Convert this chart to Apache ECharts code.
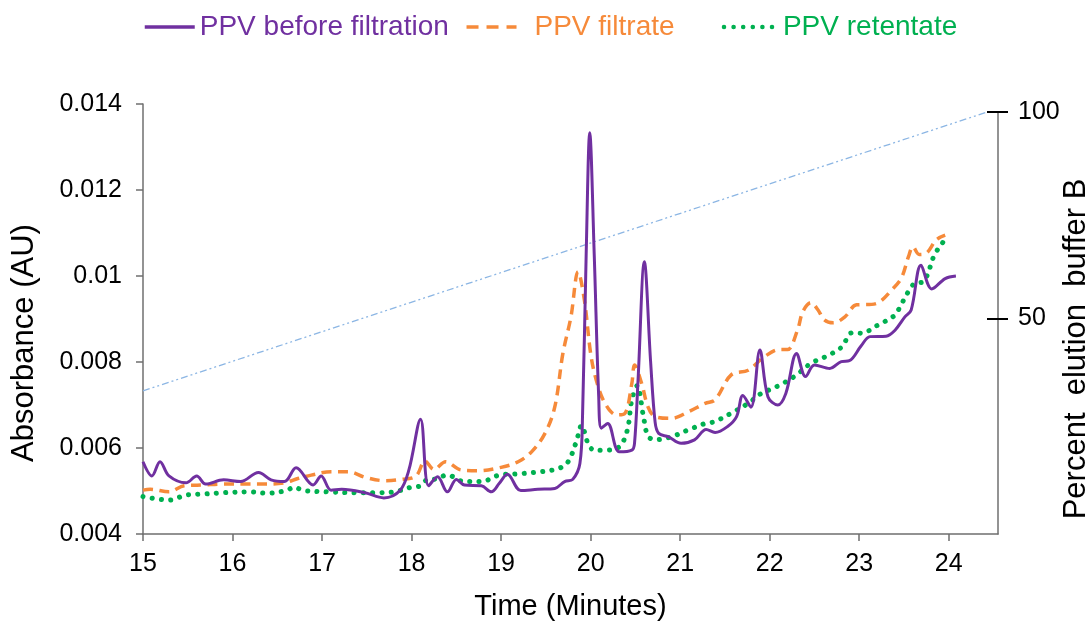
<!DOCTYPE html>
<html>
<head>
<meta charset="utf-8">
<title>PPV elution profile</title>
<script src="https://cdn.jsdelivr.net/npm/echarts@6/dist/echarts.min.js"></script>
<style>
  html, body { margin: 0; padding: 0; background: #fff; }
  #main { width: 1091px; height: 624px; }
</style>
</head>
<body>
<div id="main"></div>
<script>
// values (time in minutes, absorbance in AU)
var beforeTime = [15.0, 15.1, 15.19, 15.29, 15.48, 15.6, 15.7, 15.9, 16.09, 16.29, 16.43, 16.58, 16.71, 16.9, 16.99,
  17.1, 17.22, 17.48, 17.69, 17.87, 17.97, 18.1, 18.19, 18.29, 18.4, 18.5, 18.59, 18.78, 18.89, 18.98, 19.07,
  19.22, 19.41, 19.6, 19.71, 19.8, 19.88, 19.91, 19.95, 19.99, 20.04, 20.09, 20.12, 20.19, 20.32, 20.46, 20.49,
  20.53, 20.6, 20.67, 20.72, 20.76, 20.87, 21.01, 21.16, 21.29, 21.39, 21.53, 21.63, 21.7, 21.79, 21.89, 21.98,
  22.09, 22.18, 22.3, 22.4, 22.5, 22.67, 22.8, 22.89, 23.02, 23.12, 23.3, 23.4, 23.51, 23.58, 23.69, 23.81, 23.96, 24.08];
var beforeAbs = [0.00568, 0.00535, 0.00568, 0.00535, 0.00519, 0.00535, 0.00516, 0.00526, 0.00522, 0.00543, 0.00526, 0.00522, 0.00554, 0.00514, 0.00535,
  0.00502, 0.00504, 0.00496, 0.00484, 0.00501, 0.00549, 0.00667, 0.00512, 0.00533, 0.00498, 0.00527, 0.00514, 0.00512, 0.00498, 0.00518, 0.00539,
  0.00501, 0.00504, 0.00506, 0.00522, 0.00527, 0.00564, 0.0068, 0.0105, 0.01333, 0.0105, 0.0072, 0.00646, 0.00657, 0.00591, 0.00595, 0.00611,
  0.0076, 0.01033, 0.008, 0.0066, 0.00634, 0.00626, 0.00611, 0.00619, 0.00643, 0.00636, 0.0065, 0.00673, 0.00722, 0.00695, 0.00828, 0.00719,
  0.007, 0.00727, 0.0082, 0.00766, 0.00793, 0.00785, 0.00801, 0.00803, 0.00837, 0.00859, 0.0086, 0.00874, 0.00905, 0.00921, 0.01025, 0.0097, 0.00994, 0.01];

var filtrateTime = [15.0, 15.08, 15.29, 15.46, 15.68, 15.9, 16.17, 16.36, 16.58, 16.73, 16.88, 17.1, 17.29, 17.48, 17.7,
  17.89, 18.05, 18.15, 18.25, 18.38, 18.55, 18.74, 19.0, 19.19, 19.34, 19.49, 19.6, 19.69, 19.78, 19.86, 19.93,
  20.0, 20.06, 20.16, 20.29, 20.38, 20.46, 20.49, 20.57, 20.64, 20.72, 20.9, 21.09, 21.28, 21.39, 21.57, 21.76,
  21.94, 22.11, 22.2, 22.31, 22.37, 22.46, 22.54, 22.61, 22.71, 22.84, 22.97, 23.14, 23.23, 23.36, 23.47, 23.55,
  23.6, 23.67, 23.75, 23.86, 23.96];
var filtrateAbs = [0.00502, 0.00504, 0.00498, 0.00512, 0.00514, 0.00516, 0.00516, 0.00516, 0.00519, 0.00529, 0.00537, 0.00545, 0.00545, 0.00532, 0.00524,
  0.00527, 0.00535, 0.0057, 0.0055, 0.00568, 0.00549, 0.00547, 0.00555, 0.00568, 0.00591, 0.00634, 0.00696, 0.0082, 0.00905, 0.0101, 0.00944,
  0.0082, 0.0076, 0.00704, 0.00677, 0.0068, 0.0075, 0.00793, 0.0075, 0.00696, 0.00673, 0.00669, 0.00684, 0.00704, 0.00712, 0.0077, 0.00781,
  0.00812, 0.00829, 0.00829, 0.00874, 0.00917, 0.00938, 0.00921, 0.00898, 0.00891, 0.00905, 0.00933, 0.00934, 0.0094, 0.00967, 0.00995, 0.01045,
  0.01068, 0.0105, 0.01053, 0.01084, 0.01095];

var retentateTime = [15.0, 15.29, 15.49, 15.68, 15.9, 16.19, 16.39, 16.6, 16.69, 16.79, 17.07, 17.37, 17.59, 17.8, 18.0,
  18.1, 18.17, 18.27, 18.4, 18.59, 18.78, 18.98, 19.19, 19.37, 19.58, 19.69, 19.76, 19.84, 19.9, 19.97, 20.04,
  20.16, 20.32, 20.41, 20.46, 20.52, 20.59, 20.64, 20.72, 20.9, 21.09, 21.28, 21.38, 21.57, 21.76, 21.9, 22.09,
  22.28, 22.46, 22.61, 22.8, 22.92, 23.02, 23.21, 23.4, 23.45, 23.55, 23.62, 23.72, 23.77, 23.84, 23.94, 23.97];
var retentateAbs = [0.00487, 0.00479, 0.00491, 0.00493, 0.00496, 0.00498, 0.00495, 0.00501, 0.00509, 0.00501, 0.00498, 0.00496, 0.00496, 0.00498, 0.00509,
  0.00512, 0.00526, 0.00528, 0.00537, 0.00522, 0.00522, 0.00537, 0.0054, 0.00543, 0.00549, 0.00557, 0.00572, 0.00615, 0.00653, 0.00611, 0.00595,
  0.00595, 0.00603, 0.00642, 0.00712, 0.00745, 0.00673, 0.00628, 0.00619, 0.00626, 0.00642, 0.00657, 0.00661, 0.00681, 0.00704, 0.00726, 0.00744,
  0.00767, 0.00797, 0.00811, 0.00834, 0.00868, 0.00867, 0.00886, 0.00909, 0.00926, 0.00964, 0.00983, 0.00987, 0.01008, 0.01049, 0.0108, 0.01088];

// elution gradient (% buffer B)
var gradientTime = [15, 24.43];
var gradientPct = [32.4, 100];

var xTicks = [15, 16, 17, 18, 19, 20, 21, 22, 23, 24];
var rightTicks = [50, 100];

var font = 'Liberation Sans, Arial, sans-serif';
var axisGrey = '#6f6f6f';
var purple = '#7030A0', orange = '#F68A3A', green = '#00B050';

function pairs(t, v) {
  return t.map(function (x, i) { return [x, v[i]]; });
}

var myChart = echarts.init(document.getElementById('main'));

var option = {
  animation: false,
  textStyle: { fontFamily: font },
  legend: {
    left: 143,
    top: 13,
    itemWidth: 50,
    itemHeight: 14,
    itemGap: 16,
    padding: 0,
    itemStyle: { opacity: 0 },
    textStyle: { fontSize: 28, fontFamily: font },
    // extra room after the middle entry, as in the original legend
    formatter: function (name) {
      return name === 'PPV filtrate' ? name + '\u00a0\u00a0\u00a0\u00a0' : name;
    },
    data: [
      { name: 'PPV before filtration', textStyle: { color: purple },
        lineStyle: { width: 3.5, type: 'solid' } },
      { name: 'PPV filtrate', textStyle: { color: orange, padding: [0, 0, 0, 13] },
        lineStyle: { width: 3.5, type: [12, 8] } },
      { name: 'PPV retentate', textStyle: { color: green, padding: [0, 0, 0, 4] },
        lineStyle: { width: 4.5, type: [0.1, 9.5], cap: 'round' } }
    ]
  },
  grid: [
    { left: 143, right: 93, top: 104, bottom: 90, outerBoundsMode: 'none' },
    { left: 143, right: 93, top: 112, bottom: 90, outerBoundsMode: 'none' },
    { left: 143, right: 93, top: 112, bottom: 90, outerBoundsMode: 'none' }
  ],
  xAxis: [
    {
      type: 'value', gridIndex: 0, min: 15, max: 24.55,
      name: 'Time (Minutes)', nameLocation: 'middle', nameGap: 58,
      nameTextStyle: { fontSize: 29, color: '#000', fontFamily: font },
      axisLine: { show: true, onZero: false, lineStyle: { color: axisGrey, width: 1.5 } },
      axisTick: { show: true, length: 7, customValues: xTicks, lineStyle: { color: axisGrey, width: 1.5 } },
      axisLabel: { customValues: xTicks, fontSize: 25, color: '#000', margin: 18 },
      splitLine: { show: false }
    },
    { type: 'value', gridIndex: 1, min: 15, max: 24.55, show: false },
    { type: 'value', gridIndex: 2, min: 15, max: 24.55, show: false }
  ],
  yAxis: [
    {
      type: 'value', gridIndex: 0, min: 0.004, max: 0.014, interval: 0.002,
      name: 'Absorbance (AU)', nameLocation: 'middle', nameGap: 103,
      nameTextStyle: { fontSize: 31, color: '#000', fontFamily: font, padding: [0, 48, 0, 0] },
      axisLine: { show: true, onZero: false, lineStyle: { color: axisGrey, width: 1.5 } },
      axisTick: { show: true, length: 7, lineStyle: { color: axisGrey, width: 1.5 } },
      axisLabel: { fontSize: 25, color: '#000', margin: 21 },
      splitLine: { show: false }
    },
    {
      type: 'value', gridIndex: 1, position: 'right', min: -2.3, max: 100,
      name: 'Percent  elution  buffer B', nameLocation: 'middle', nameRotate: 90, nameGap: 63,
      nameMoveOverlap: false,
      nameTextStyle: { fontSize: 31, color: '#000', fontFamily: font, padding: [0, 52, 0, 0] },
      axisLine: { show: true, onZero: false, lineStyle: { color: axisGrey, width: 1.5 } },
      axisTick: { show: true, length: 10, customValues: rightTicks, lineStyle: { color: '#000', width: 2 } },
      axisLabel: { customValues: rightTicks, fontSize: 25, color: '#000', margin: 20 },
      splitLine: { show: false }
    },
    {
      type: 'value', gridIndex: 2, position: 'right', min: -2.3, max: 100,
      axisLine: { show: false },
      axisTick: { show: true, inside: true, length: 11, customValues: rightTicks, lineStyle: { color: '#000', width: 2 } },
      axisLabel: { show: false },
      splitLine: { show: false }
    }
  ],
  series: [
    {
      name: 'Gradient', type: 'line', xAxisIndex: 1, yAxisIndex: 1,
      data: pairs(gradientTime, gradientPct),
      symbol: 'none', silent: true, z: 1,
      lineStyle: { color: '#8CB6E4', width: 1.3, type: [7, 3, 2, 3, 2, 3] }
    },
    {
      name: 'PPV retentate', type: 'line', xAxisIndex: 0, yAxisIndex: 0,
      data: pairs(retentateTime, retentateAbs),
      symbol: 'none', smooth: 0.35, z: 2,
      itemStyle: { color: green },
      lineStyle: { color: green, width: 5, type: [0.1, 9.2], cap: 'round' }
    },
    {
      name: 'PPV filtrate', type: 'line', xAxisIndex: 0, yAxisIndex: 0,
      data: pairs(filtrateTime, filtrateAbs),
      symbol: 'none', smooth: 0.35, z: 3,
      itemStyle: { color: orange },
      lineStyle: { color: orange, width: 3.5, type: [10, 6.5] }
    },
    {
      name: 'PPV before filtration', type: 'line', xAxisIndex: 0, yAxisIndex: 0,
      data: pairs(beforeTime, beforeAbs),
      symbol: 'none', smooth: 0.35, z: 4,
      itemStyle: { color: purple },
      lineStyle: { color: purple, width: 3 }
    }
  ]
};

myChart.setOption(option);
</script>
</body>
</html>
